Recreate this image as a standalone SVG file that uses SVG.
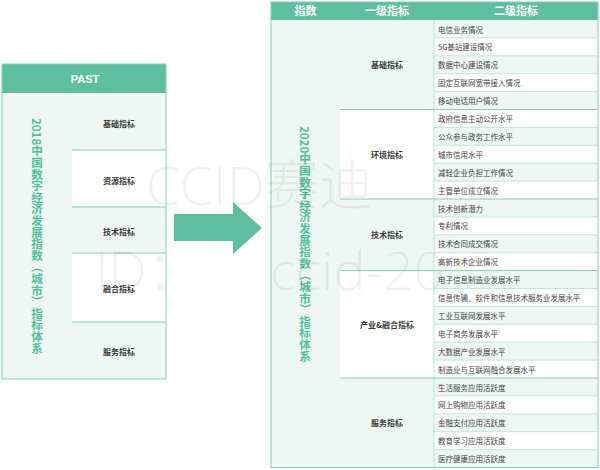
<svg xmlns="http://www.w3.org/2000/svg" width="600" height="470" viewBox="0 0 600 470">
<style>
.hdr{fill:#5dbf9f}
.mint{fill:#eef7f3}
.wht{fill:#ffffff}
.bd{fill:none;stroke:#86ceb6;stroke-width:1}
.ln{stroke:#86ceb6;stroke-width:1}
.ln2{stroke:#b4e0d1;stroke-width:0.8}
.ht{font-family:"Liberation Sans","Noto Sans CJK SC",sans-serif;font-weight:bold;fill:#fff;text-anchor:middle;dominant-baseline:central}
.vt{font-family:"Noto Sans CJK SC",sans-serif;font-weight:bold;fill:#52bf9c;font-size:11.6px;writing-mode:vertical-rl;text-orientation:mixed;text-anchor:middle}
.l1{font-family:"Noto Sans CJK SC",sans-serif;font-weight:bold;fill:#3a3a3a;font-size:8px;text-anchor:middle;dominant-baseline:central}
.l2{font-family:"Noto Sans CJK SC",sans-serif;fill:#444;font-size:7.5px;dominant-baseline:central}
.wm{font-family:"Open Sans","Noto Sans CJK SC",sans-serif;font-weight:300;fill:#000;fill-opacity:0.06;font-size:54px}
</style>

<!-- Left panel -->
<g id="past">
  <rect x="2" y="64" width="164" height="315" class="mint"/>
  <rect x="2" y="64" width="164" height="29" class="hdr"/>
  <text x="85" y="78.5" class="ht" font-size="11">PAST</text>
  <rect x="72" y="150" width="94" height="57" class="wht"/>
  <rect x="72" y="253" width="94" height="69" class="wht"/>
  <line x1="72" y1="150" x2="166" y2="150" class="ln"/>
  <line x1="72" y1="207" x2="166" y2="207" class="ln"/>
  <line x1="72" y1="253" x2="166" y2="253" class="ln"/>
  <line x1="72" y1="322" x2="166" y2="322" class="ln"/>
  <rect x="2" y="64" width="164" height="315" class="bd"/>
  <text x="37" y="236" class="vt">2018中国数字经济发展指数（城市）指标体系</text>
  <text x="119" y="123" class="l1" font-size="8.5">基础指标</text>
  <text x="119" y="180" class="l1" font-size="8.5">资源指标</text>
  <text x="119" y="231" class="l1" font-size="8.5">技术指标</text>
  <text x="119" y="288" class="l1" font-size="8.5">融合指标</text>
  <text x="119" y="351" class="l1" font-size="8.5">服务指标</text>
</g>

<!-- Arrow -->
<g id="connectors">
  <polygon points="174,214 233,214 233,202 262,228 233,254 233,241 174,241" fill="#5dbf9f"/>
</g>

<!-- Right table -->
<g id="table2020">
  <rect x="271" y="20" width="327" height="447.5" class="mint"/>
  <rect x="271" y="2" width="327" height="18" class="hdr"/>
  <text x="305.5" y="11" class="ht" font-size="11">指数</text>
  <text x="387" y="11" class="ht" font-size="11">一级指标</text>
  <text x="516" y="11" class="ht" font-size="11">二级指标</text>

  <rect x="340" y="109.5" width="94" height="89.5" class="wht"/>
  <rect x="340" y="270.6" width="94" height="107.4" class="wht"/>

  <g class="wht">
    <rect x="434" y="37.9" width="164" height="17.9"/>
    <rect x="434" y="73.7" width="164" height="17.9"/>
    <rect x="434" y="109.5" width="164" height="17.9"/>
    <rect x="434" y="145.3" width="164" height="17.9"/>
    <rect x="434" y="181.1" width="164" height="17.9"/>
    <rect x="434" y="216.9" width="164" height="17.9"/>
    <rect x="434" y="252.7" width="164" height="17.9"/>
    <rect x="434" y="288.5" width="164" height="17.9"/>
    <rect x="434" y="324.3" width="164" height="17.9"/>
    <rect x="434" y="360.1" width="164" height="17.9"/>
    <rect x="434" y="395.9" width="164" height="17.9"/>
    <rect x="434" y="431.7" width="164" height="17.9"/>
  </g>

  <g class="ln2">
    <line x1="434" y1="37.9" x2="598" y2="37.9"/>
    <line x1="434" y1="55.8" x2="598" y2="55.8"/>
    <line x1="434" y1="73.7" x2="598" y2="73.7"/>
    <line x1="434" y1="91.6" x2="598" y2="91.6"/>
    <line x1="434" y1="127.4" x2="598" y2="127.4"/>
    <line x1="434" y1="145.3" x2="598" y2="145.3"/>
    <line x1="434" y1="163.2" x2="598" y2="163.2"/>
    <line x1="434" y1="181.1" x2="598" y2="181.1"/>
    <line x1="434" y1="216.9" x2="598" y2="216.9"/>
    <line x1="434" y1="234.8" x2="598" y2="234.8"/>
    <line x1="434" y1="252.7" x2="598" y2="252.7"/>
    <line x1="434" y1="288.5" x2="598" y2="288.5"/>
    <line x1="434" y1="306.4" x2="598" y2="306.4"/>
    <line x1="434" y1="324.3" x2="598" y2="324.3"/>
    <line x1="434" y1="342.2" x2="598" y2="342.2"/>
    <line x1="434" y1="360.1" x2="598" y2="360.1"/>
    <line x1="434" y1="395.9" x2="598" y2="395.9"/>
    <line x1="434" y1="413.8" x2="598" y2="413.8"/>
    <line x1="434" y1="431.7" x2="598" y2="431.7"/>
    <line x1="434" y1="449.6" x2="598" y2="449.6"/>
    <line x1="434" y1="20" x2="434" y2="467.5"/>
  </g>
  <g class="ln">
    <line x1="340" y1="109.5" x2="598" y2="109.5"/>
    <line x1="340" y1="199" x2="598" y2="199"/>
    <line x1="340" y1="270.6" x2="598" y2="270.6"/>
    <line x1="340" y1="378" x2="598" y2="378"/>
  </g>
  <rect x="271" y="2" width="327" height="465.5" class="bd"/>

  <text x="305" y="244" class="vt">2020中国数字经济发展指数（城市）指标体系</text>

  <text x="387" y="64.7" class="l1">基础指标</text>
  <text x="387" y="154.2" class="l1">环境指标</text>
  <text x="387" y="234.8" class="l1">技术指标</text>
  <text x="387" y="324.3" class="l1">产业&amp;融合指标</text>
  <text x="387" y="422.7" class="l1">服务指标</text>

  <g class="l2">
    <text x="438" y="29">电信业务情况</text>
    <text x="438" y="46.9">5G基站建设情况</text>
    <text x="438" y="64.8">数据中心建设情况</text>
    <text x="438" y="82.7">固定互联网宽带接入情况</text>
    <text x="438" y="100.6">移动电话用户情况</text>
    <text x="438" y="118.5">政府信息主动公开水平</text>
    <text x="438" y="136.4">公众参与政务工作水平</text>
    <text x="438" y="154.3">城市信用水平</text>
    <text x="438" y="172.2">减轻企业负担工作情况</text>
    <text x="438" y="190.1">主管单位成立情况</text>
    <text x="438" y="208">技术创新潜力</text>
    <text x="438" y="225.9">专利情况</text>
    <text x="438" y="243.8">技术合同成交情况</text>
    <text x="438" y="261.7">高新技术企业情况</text>
    <text x="438" y="279.6">电子信息制造业发展水平</text>
    <text x="438" y="297.5">信息传输、软件和信息技术服务业发展水平</text>
    <text x="438" y="315.4">工业互联网发展水平</text>
    <text x="438" y="333.3">电子商务发展水平</text>
    <text x="438" y="351.2">大数据产业发展水平</text>
    <text x="438" y="369.1">制造业与互联网融合发展水平</text>
    <text x="438" y="387">生活服务应用活跃度</text>
    <text x="438" y="404.9">网上购物应用活跃度</text>
    <text x="438" y="422.8">金融支付应用活跃度</text>
    <text x="438" y="440.7">教育学习应用活跃度</text>
    <text x="438" y="458.6">医疗健康应用活跃度</text>
  </g>
</g>

<!-- Watermark -->
<g id="watermark">
  <text x="146" y="205" class="wm">CCID赛迪</text>
  <text x="95" y="290" class="wm">ID：<tspan x="270">ccid-20</tspan></text>
</g>
</svg>
